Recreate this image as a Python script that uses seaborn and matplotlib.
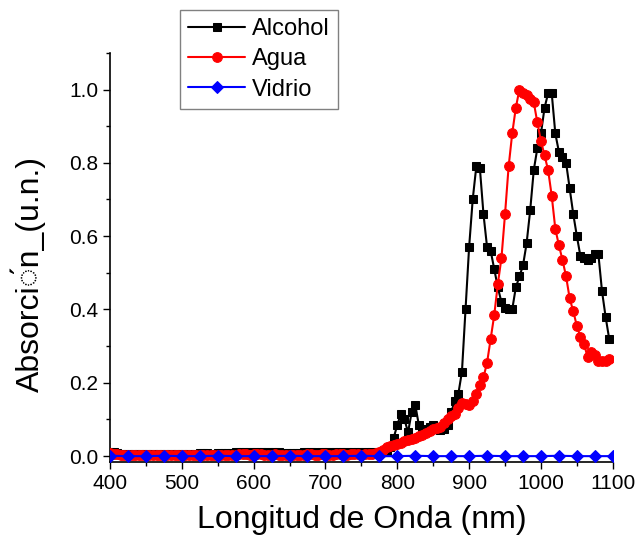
import numpy as np
import pandas as pd
import seaborn as sns
import matplotlib.pyplot as plt
from matplotlib.ticker import MultipleLocator

# longitudes de onda (nm)
wl = np.arange(400, 1100, 5)
wl_vidrio = np.arange(400, 1101, 25)

alcohol = [
    0.012, 0.010, 0.008, 0.007, 0.006, 0.006, 0.007, 0.006, 0.005, 0.006,
    0.007, 0.006, 0.006, 0.007, 0.007, 0.006, 0.005, 0.006, 0.007, 0.006,
    0.006, 0.005, 0.006, 0.007, 0.007, 0.008, 0.009, 0.008, 0.007, 0.007,
    0.008, 0.009, 0.008, 0.008, 0.009, 0.010, 0.010, 0.011, 0.012, 0.011,
    0.011, 0.012, 0.011, 0.011, 0.010, 0.010, 0.011, 0.010, 0.009, 0.009,
    0.008, 0.009, 0.008, 0.009, 0.010, 0.010, 0.011, 0.010, 0.009, 0.010,
    0.011, 0.010, 0.010, 0.011, 0.012, 0.011, 0.010, 0.011, 0.012, 0.011,
    0.010, 0.010, 0.011, 0.010, 0.009, 0.010, 0.011, 0.012, 0.025, 0.050,
    0.085, 0.115, 0.100, 0.065, 0.120, 0.140, 0.085, 0.070, 0.075, 0.080,
    0.085, 0.075, 0.070, 0.075, 0.085, 0.120, 0.150, 0.170, 0.230, 0.400,
    0.570, 0.700, 0.790, 0.785, 0.660, 0.570, 0.560, 0.510, 0.460, 0.420,
    0.405, 0.400, 0.400, 0.460, 0.490, 0.520, 0.580, 0.670, 0.780, 0.840,
    0.880, 0.950, 0.990, 0.990, 0.880, 0.830, 0.815, 0.800, 0.730, 0.660,
    0.600, 0.545, 0.540, 0.535, 0.540, 0.550, 0.550, 0.450, 0.380, 0.320,
]

agua = [
    0.008, 0.006, 0.005, 0.004, 0.004, 0.003, 0.003, 0.004, 0.003, 0.003,
    0.003, 0.004, 0.003, 0.003, 0.002, 0.003, 0.003, 0.003, 0.002, 0.003,
    0.003, 0.003, 0.002, 0.003, 0.003, 0.004, 0.004, 0.003, 0.003, 0.003,
    0.003, 0.004, 0.004, 0.003, 0.004, 0.004, 0.005, 0.005, 0.005, 0.004,
    0.005, 0.005, 0.005, 0.004, 0.004, 0.004, 0.005, 0.004, 0.004, 0.004,
    0.004, 0.003, 0.004, 0.004, 0.004, 0.005, 0.005, 0.004, 0.004, 0.005,
    0.005, 0.004, 0.004, 0.005, 0.005, 0.005, 0.004, 0.005, 0.005, 0.005,
    0.004, 0.005, 0.005, 0.006, 0.008, 0.012, 0.018, 0.025, 0.028, 0.030,
    0.033, 0.036, 0.040, 0.044, 0.047, 0.050, 0.054, 0.058, 0.063, 0.068,
    0.074, 0.078, 0.080, 0.090, 0.100, 0.110, 0.115, 0.130, 0.145, 0.142,
    0.140, 0.150, 0.170, 0.195, 0.215, 0.255, 0.320, 0.385, 0.470, 0.540,
    0.660, 0.790, 0.880, 0.950, 1.000, 0.990, 0.985, 0.975, 0.965, 0.910,
    0.860, 0.820, 0.780, 0.710, 0.620, 0.575, 0.535, 0.490, 0.430, 0.395,
    0.355, 0.325, 0.305, 0.270, 0.285, 0.275, 0.260, 0.260, 0.260, 0.265,
]

vidrio = [
    0.001, 0.000, 0.000, 0.001, 0.000, 0.000, 0.001, 0.000, 0.000, 0.000,
    0.001, 0.000, 0.000, 0.000, 0.001, 0.000, 0.000, 0.001, 0.000, 0.000,
    0.000, 0.001, 0.000, 0.000, 0.000, 0.001, 0.000, 0.000, 0.000,
]

df_alc = pd.DataFrame({'x': wl, 'y': alcohol})
df_agua = pd.DataFrame({'x': wl, 'y': agua})
df_vid = pd.DataFrame({'x': wl_vidrio, 'y': vidrio})

sns.set_style('ticks')
plt.rcParams['font.family'] = ['Liberation Sans', 'DejaVu Sans']
plt.rcParams['text.color'] = 'black'
plt.rcParams['axes.labelcolor'] = 'black'

fig = plt.figure(figsize=(6.43, 5.5), dpi=100)
ax = fig.add_axes([0.171, 0.16, 0.782, 0.744])

sns.lineplot(data=df_alc, x='x', y='y', color='black', marker='s', markersize=6,
             markeredgecolor='black', linewidth=1.5, label='Alcohol', ax=ax, zorder=3)
sns.lineplot(data=df_agua, x='x', y='y', color='red', marker='o', markersize=7,
             markeredgecolor='red', linewidth=1.5, label='Agua', ax=ax, zorder=4)
sns.lineplot(data=df_vid, x='x', y='y', color='blue', marker='D', markersize=6,
             markeredgecolor='blue', linewidth=1.5, label='Vidrio', ax=ax, zorder=5)

ax.set_xlim(400, 1100)
ax.set_ylim(-0.016, 1.1001)
ax.xaxis.set_major_locator(MultipleLocator(100))
ax.xaxis.set_minor_locator(MultipleLocator(50))
ax.yaxis.set_major_locator(MultipleLocator(0.2))
ax.yaxis.set_minor_locator(MultipleLocator(0.1))
ax.yaxis.set_major_formatter(lambda v, _: f'{v:.1f}')
ax.tick_params(which='major', direction='out', length=5, width=1, labelsize=15, colors='black')
ax.tick_params(which='minor', direction='out', length=3, width=1, colors='black')

for s in ['top', 'right']:
    ax.spines[s].set_visible(False)
for s in ['left', 'bottom']:
    ax.spines[s].set_linewidth(1.2)
    ax.spines[s].set_color('black')

ax.set_xlabel('Longitud de Onda (nm)', fontsize=23, labelpad=9, color='black')
ax.set_ylabel('Absorci\u25cc\u0301n_(u.n.)', fontsize=23, color='black')
ax.yaxis.set_label_coords(-0.128, 0.46)

ax.get_legend().remove()
handles, labels = ax.get_legend_handles_labels()
leg = fig.legend(handles, labels, loc='upper left', bbox_to_anchor=(0.28, 0.982),
                 borderaxespad=0, fontsize=17, handlelength=2.4, handletextpad=0.3,
                 labelspacing=0.35, borderpad=0.35, fancybox=False, framealpha=1,
                 edgecolor='gray')
leg.get_frame().set_linewidth(1)
for t in leg.get_texts():
    t.set_color('black')

fig.savefig('out.png', dpi=100)
